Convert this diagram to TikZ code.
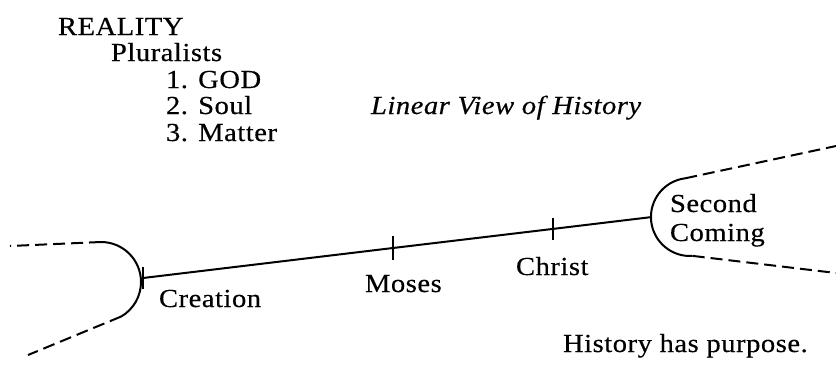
\documentclass[tikz,border=0pt]{standalone}
\usepackage{fontspec}
\setmainfont{Liberation Serif}[FakeStretch=1.1,LetterSpace=2,FakeBold=0.4]
\begin{document}
\begin{tikzpicture}[x=1pt,y=-1pt,line width=2pt,
    lbl/.style={inner sep=0pt,anchor=base west,font=\fontsize{26}{30}\selectfont},
    tickmark/.style={line width=1.5pt},
    fade/.style={dash pattern=on 12pt off 6pt}]
\useasboundingbox (0,0) rectangle (836,373);
% list at the top left
\node[lbl] (reality) at (57,35) {REALITY};
\node[lbl] (plural) at (110,61) {Pluralists};
\node[lbl] (god) at (165,88) {1. GOD};
\node[lbl] (soul) at (165,114) {2. Soul};
\node[lbl] (matter) at (165,141) {3. Matter};
\node[lbl] (title) at (370,114) {\itshape Linear View of History};
% points of the line
\coordinate (cre) at (143,278);
\coordinate (mos) at (393,248);
\coordinate (chr) at (553,228.9);
\coordinate (sec) at (652,217);
\draw (cre) -- (mos) -- (chr) -- (sec);
\draw[tickmark] (cre) ++(0,-11) -- ++(0,22);
\draw[tickmark] (mos) ++(0,-12) -- ++(0,24);
\draw[tickmark] (chr) ++(0,-11) -- ++(0,22);
% left end
\draw (101,242) arc (-90:60:40);
\draw[fade] (101,242) -- (10,246);
\draw[fade] (121,316.6) -- (28,355);
% right end
\draw (685.2,178.3) arc (263:86:39);
\draw[fade] (685.2,178.3) -- (836,146);
\draw[fade] (692.7,255.9) -- (836,273);
% labels
\node[lbl] (creation) at (158,307) {Creation};
\node[lbl] (moses) at (364,292) {Moses};
\node[lbl] (christ) at (515,275) {Christ};
\node[lbl] (second) at (669,212) {Second};
\node[lbl] (coming) at (669,241) {Coming};
\node[lbl] (purpose) at (562,352) {History has purpose.};
\end{tikzpicture}
\end{document}
